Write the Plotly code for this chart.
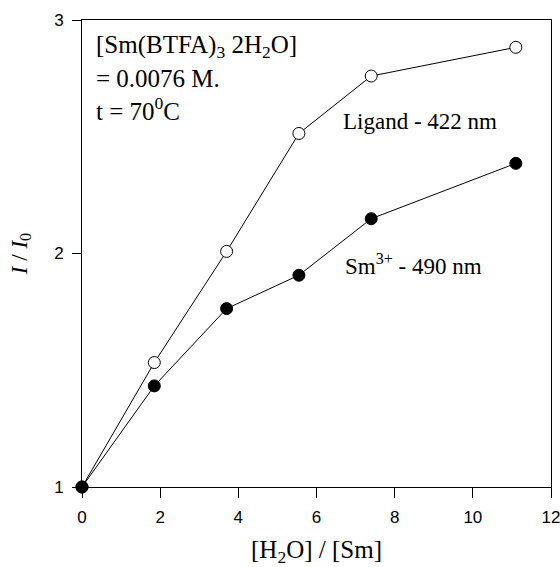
import plotly.graph_objects as go

# Data
ratio = [0, 1.85, 3.7, 5.55, 7.4, 11.1]
ligand_422 = [1.0, 1.533, 2.009, 2.514, 2.76, 2.883]
sm_490 = [1.0, 1.433, 1.764, 1.907, 2.149, 2.386]
x_ticks = [0, 2, 4, 6, 8, 10, 12]
y_ticks = [1, 2, 3]

SERIF = "Liberation Serif, Times New Roman, serif"
SANS = "Liberation Sans, Arial, sans-serif"

fig = go.Figure()
fig.add_trace(go.Scatter(
    x=ratio, y=ligand_422, mode="lines+markers", name="Ligand - 422 nm",
    line=dict(color="black", width=1),
    marker=dict(symbol="circle", size=12, color="white", line=dict(color="black", width=1)),
    cliponaxis=False, showlegend=False))
fig.add_trace(go.Scatter(
    x=ratio, y=sm_490, mode="lines+markers", name="Sm3+ - 490 nm",
    line=dict(color="black", width=1),
    marker=dict(symbol="circle", size=12, color="black", line=dict(color="black", width=1)),
    cliponaxis=False, showlegend=False))

block_font = dict(family=SERIF, size=25, color="black")
label_font = dict(family=SERIF, size=23, color="black")
annotations = [
    dict(text="[Sm(BTFA)<sub>3</sub> 2H<sub>2</sub>O]", x=0.026, y=0.944, font=block_font),
    dict(text="= 0.0076 M.", x=0.026, y=0.874, font=block_font),
    dict(text="t = 70<sup>0</sup>C", x=0.026, y=0.809, font=block_font),
    dict(text="Ligand - 422 nm", x=0.553, y=0.782, font=label_font),
    dict(text="Sm<sup>3+</sup> - 490 nm", x=0.556, y=0.476, font=label_font),
]
for a in annotations:
    fig.add_annotation(xref="paper", yref="paper", xanchor="left", yanchor="middle",
                       showarrow=False, **a)

fig.update_layout(
    width=560, height=567,
    margin=dict(l=82, r=9, t=20, b=80),
    paper_bgcolor="white", plot_bgcolor="white",
    xaxis=dict(
        range=[0, 12], tickvals=x_ticks, ticktext=[str(v) for v in x_ticks],
        ticks="outside", ticklen=10, tickwidth=1, tickcolor="black",
        showline=True, linecolor="black", linewidth=1, mirror=True,
        showgrid=False, zeroline=False, automargin=False,
        ticklabeloverflow="allow", ticklabelstandoff=5,
        tickfont=dict(family=SANS, size=17, color="black"),
        title=dict(text="[H<sub>2</sub>O] / [Sm]", font=dict(family=SERIF, size=25, color="black"), standoff=17),
    ),
    yaxis=dict(
        range=[1, 3], tickvals=y_ticks, ticktext=[str(v) for v in y_ticks],
        ticks="outside", ticklen=9, tickwidth=1, tickcolor="black",
        showline=True, linecolor="black", linewidth=1, mirror=True,
        showgrid=False, zeroline=False, automargin=False,
        ticklabeloverflow="allow", ticklabelstandoff=5,
        tickfont=dict(family=SANS, size=17, color="black"),
        title=dict(text="<i>I</i> / <i>I</i><sub>0</sub>", font=dict(family=SERIF, size=23, color="black"), standoff=20),
    ),
)

fig.write_html("out.html", config={"displayModeBar": False},
               post_script="document.body.style.margin='0';")
